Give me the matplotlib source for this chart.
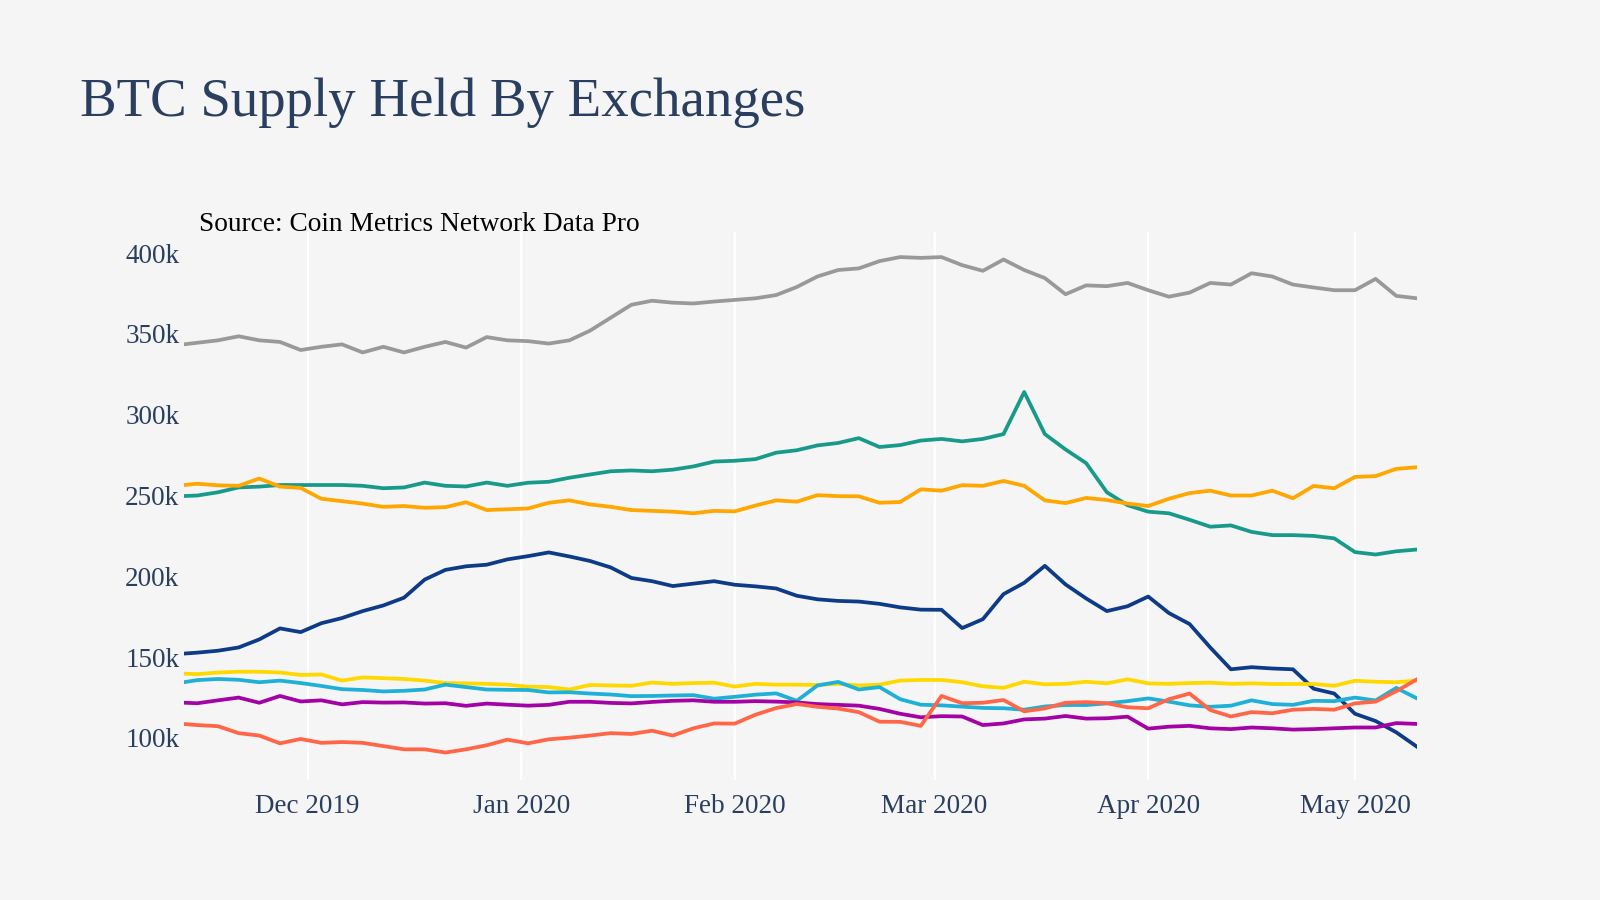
"""
BTC supply held by exchanges, recreated with matplotlib.
"""

import pandas as pd
import matplotlib.pyplot as plt
import matplotlib.dates as mdates
from matplotlib.ticker import FuncFormatter

plt.rcParams["font.family"] = ["Liberation Serif", "DejaVu Serif"]

# sampled every 3 days, values in thousands of BTC
DATES = pd.date_range("2019-11-12", "2020-05-10", freq="3D")

gray = [343, 344.5, 346, 348.5, 346, 345, 340, 342, 343.5, 338.5,
        342, 338.5, 342, 345, 341.5, 348, 346, 345.5, 344, 346,
        352, 360, 368, 370.5, 369.3, 368.8, 370, 371, 372, 374,
        379, 385.5, 389.5, 390.5, 395, 397.5, 397, 397.5, 392.5, 389,
        396, 389.5, 384.5, 374.5, 380, 379.5, 381.5, 377, 373, 375.5,
        381.5, 380.5, 387.5, 385.5, 380.5, 378.7, 377, 377, 384, 373.5, 372]

teal = [249.5, 250, 252, 255, 255.5, 256.5, 256.5, 256.5, 256.5, 256,
        254.5, 255, 258, 256, 255.6, 258, 256, 257.9, 258.5, 261,
        263, 265, 265.5, 265, 266, 268, 271, 271.5, 272.5, 276.5,
        278, 281, 282.5, 285.5, 280, 281.2, 284, 285, 283.5, 285,
        288, 314, 288, 278.5, 270, 252, 244, 240, 239, 235,
        230.7, 231.5, 227.5, 225.5, 225.5, 225, 223.5, 215, 213.5, 215.5, 216.6]

orange = [256, 257.3, 256.3, 256, 260.5, 255.5, 254.7, 248, 246.5, 245,
          243, 243.5, 242.4, 242.8, 245.8, 241, 241.5, 242, 245.5, 247,
          244.5, 243, 241, 240.5, 240, 239, 240.5, 240.2, 243.8, 247,
          246.2, 250.2, 249.6, 249.5, 245.5, 246, 253.8, 253, 256.4, 256,
          259, 256, 247, 245.3, 248.5, 247.2, 245, 243.5, 248, 251.5,
          253, 250, 250, 253, 248.3, 255.9, 254.5, 261.5, 262, 266.5, 267.5]

navy = [151.9, 152.8, 154, 156, 161, 167.8, 165.5, 171, 174.2, 178.5,
        182, 186.8, 198, 204, 206.2, 207.2, 210.5, 212.5, 214.8, 212.3,
        209.5, 205.5, 199, 197, 194, 195.5, 197, 194.8, 193.8, 192.5,
        188, 185.8, 184.8, 184.4, 183, 180.8, 179.4, 179.3, 168, 173.5,
        189, 196, 206.5, 195, 186.3, 178.5, 181.5, 187.5, 177.3, 170.5,
        156, 142.5, 143.8, 143, 142.5, 130.5, 127.5, 115, 110.5, 103.5, 94.6]

yellow = [140, 139.5, 140.5, 141, 141, 140.5, 139, 139.3, 135.5, 137.5,
          137, 136.5, 135.5, 134, 133.8, 133.5, 133, 131.7, 131.5, 130,
          132.8, 132.5, 132.3, 134.3, 133.5, 134, 134.2, 131.8, 133.5, 133,
          133, 132.8, 133.5, 132.5, 133, 135.5, 135.9, 135.9, 134.5, 132,
          131, 134.8, 133.2, 133.5, 134.8, 133.8, 136.3, 133.8, 133.5, 134,
          134.2, 133.5, 133.8, 133.4, 133.4, 133.4, 132.3, 135.4, 134.8, 134.5, 135.5]

cyan = [133.8, 135.8, 136.5, 136, 134.5, 135.5, 134, 132.2, 130.2, 129.7,
        128.8, 129.2, 130, 133, 131.5, 130, 129.8, 129.7, 128.2, 128.3,
        127.5, 126.9, 125.9, 126, 126.3, 126.5, 124.3, 125.5, 126.8, 127.6,
        123, 132.5, 134.7, 130, 131.5, 124, 120.6, 120.2, 119.4, 118.6,
        118.4, 117.5, 119.5, 120.4, 120.4, 121.4, 122.8, 124.5, 122.5, 120.2,
        119.3, 120, 123.3, 121, 120.5, 123, 122.8, 125, 123.2, 131, 124.5]

magenta = [122, 121.5, 123.3, 125, 121.8, 126, 122.6, 123.3, 120.8, 122.2,
           121.9, 122, 121.3, 121.5, 119.9, 121.3, 120.6, 120, 120.5, 122.4,
           122.4, 121.7, 121.4, 122.3, 123, 123.3, 122.4, 122.4, 122.8, 122.5,
           122, 121, 120.5, 120, 118, 115, 112.8, 113.5, 113.3, 108,
           109, 111.5, 112, 113.6, 112, 112.2, 113.2, 105.8, 107, 107.5,
           106, 105.5, 106.5, 106, 105.2, 105.5, 106, 106.5, 106.5, 109.2, 108.7]

salmon = [109, 108, 107.3, 103, 101.5, 96.7, 99.4, 97, 97.5, 97,
          95, 93, 93, 91, 93, 95.5, 99, 96.7, 99.2, 100.2,
          101.5, 103, 102.5, 104.5, 101.5, 106, 109, 108.9, 114.4, 118.5,
          121, 119.3, 118.2, 116, 110.1, 110, 107.5, 126, 121.5, 121.8,
          123.5, 116.5, 118.3, 121.8, 122.2, 121.5, 119, 118.4, 124, 127.5,
          117.3, 113.3, 116, 115.3, 117.5, 118, 117.5, 121.4, 122.5, 129, 136.3]

SERIES = [
    (navy, "#0d3b87"),
    (teal, "#189a8a"),
    (orange, "#ffa600"),
    (gray, "#999999"),
    (yellow, "#ffd800"),
    (cyan, "#1eb0d6"),
    (magenta, "#a303a5"),
    (salmon, "#ff6647"),
]

BG = "#f5f5f5"
TEXT = "#2a3f5f"


def plot_exchange_supply():
    """
    Line chart of BTC held on exchanges.
    """
    fig = plt.figure(figsize=(16, 9), dpi=100, facecolor=BG)
    ax = fig.add_axes([0.1147, 0.1333, 0.7709, 0.6089], facecolor=BG)

    for values, color in SERIES:
        ax.plot(DATES, values, color=color, linewidth=2.7, solid_joinstyle="round")

    ax.set_xlim(pd.Timestamp("2019-11-13"), pd.Timestamp("2020-05-10"))
    ax.set_ylim(74, 413)

    ax.xaxis.set_major_locator(mdates.MonthLocator())
    ax.xaxis.set_major_formatter(mdates.DateFormatter("%b %Y"))
    ax.set_yticks([100, 150, 200, 250, 300, 350, 400])
    ax.yaxis.set_major_formatter(FuncFormatter(lambda v, _: f"{v:.0f}k"))

    ax.grid(True, axis="x", color="white", linewidth=1.5)
    ax.set_axisbelow(True)
    ax.tick_params(axis="both", length=0, labelsize=19.5, labelcolor=TEXT)
    ax.tick_params(axis="x", pad=10)
    ax.tick_params(axis="y", pad=3)
    for spine in ax.spines.values():
        spine.set_visible(False)

    fig.text(0.05, 1 - 116 / 900, "BTC Supply Held By Exchanges",
             fontsize=39.5, color=TEXT, va="baseline", ha="left")
    fig.text(199 / 1600, 1 - 231 / 900, "Source: Coin Metrics Network Data Pro",
             fontsize=19.7, color="black", va="baseline", ha="left")

    fig.savefig("out.png", dpi=100, facecolor=BG)


plot_exchange_supply()
